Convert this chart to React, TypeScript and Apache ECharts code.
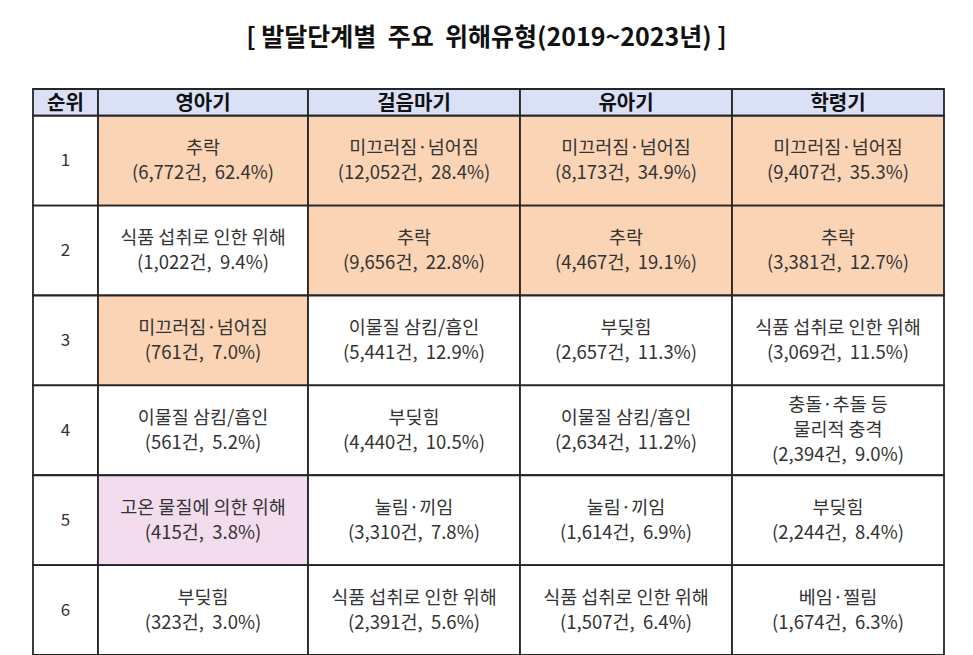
import React, { useEffect, useRef } from "react";
import * as echarts from "echarts";

const TITLE = "[ 발달단계별  주요  위해유형(2019~2023년) ]";
const rankHeader = "순위";
const stages = ["영아기", "걸음마기", "유아기", "학령기"];
const ranks = ["1", "2", "3", "4", "5", "6"];

const infantTypes = ["추락", "식품 섭취로 인한 위해", "미끄러짐·넘어짐", "이물질 삼킴/흡인", "고온 물질에 의한 위해", "부딪힘"];
const infantCounts = [6772, 1022, 761, 561, 415, 323];
const infantShares = [62.4, 9.4, 7.0, 5.2, 3.8, 3.0];

const toddlerTypes = ["미끄러짐·넘어짐", "추락", "이물질 삼킴/흡인", "부딪힘", "눌림·끼임", "식품 섭취로 인한 위해"];
const toddlerCounts = [12052, 9656, 5441, 4440, 3310, 2391];
const toddlerShares = [28.4, 22.8, 12.9, 10.5, 7.8, 5.6];

const preschoolTypes = ["미끄러짐·넘어짐", "추락", "부딪힘", "이물질 삼킴/흡인", "눌림·끼임", "식품 섭취로 인한 위해"];
const preschoolCounts = [8173, 4467, 2657, 2634, 1614, 1507];
const preschoolShares = [34.9, 19.1, 11.3, 11.2, 6.9, 6.4];

const schoolTypes = ["미끄러짐·넘어짐", "추락", "식품 섭취로 인한 위해", "충돌·추돌 등\n물리적 충격", "부딪힘", "베임·찔림"];
const schoolCounts = [9407, 3381, 3069, 2394, 2244, 1674];
const schoolShares = [35.3, 12.7, 11.5, 9.0, 8.4, 6.3];

// highlighted cells: 'o' = orange, 'p' = pink, '' = none
const infantMarks = ["o", "", "o", "", "p", ""];
const toddlerMarks = ["o", "o", "", "", "", ""];
const preschoolMarks = ["o", "o", "", "", "", ""];
const schoolMarks = ["o", "o", "", "", "", ""];

// layout (not data)
const COL_W = [65, 210, 212, 212, 212];
const HEADER_H = 27;
const ROW_H = 90.8;

const FONT = '"Noto Sans CJK KR", "Noto Sans", sans-serif';
const COLORS: Record<string, string> = { o: "#fbd4b6", p: "#f2dcee", h: "#dae0f5", "": "#ffffff" };

export default function App() {
  const ref = useRef<HTMLDivElement>(null);
  useEffect(() => {
    document.body.style.margin = "0";
    const chart = echarts.init(ref.current!, null, { renderer: "svg" });

    const colEdges = [0];
    COL_W.forEach((w) => colEdges.push(colEdges[colEdges.length - 1] + w));
    const rowEdges = [0, HEADER_H];
    ranks.forEach(() => rowEdges.push(rowEdges[rowEdges.length - 1] + ROW_H));

    const fmt = (n: number) => n.toLocaleString("en-US");
    const cells: any[] = [];
    cells.push({ value: [0, 0], label: rankHeader, kind: "h" });
    stages.forEach((s, i) => cells.push({ value: [i + 1, 0], label: s, kind: "h" }));
    const stageData = [
      [infantTypes, infantCounts, infantShares, infantMarks],
      [toddlerTypes, toddlerCounts, toddlerShares, toddlerMarks],
      [preschoolTypes, preschoolCounts, preschoolShares, preschoolMarks],
      [schoolTypes, schoolCounts, schoolShares, schoolMarks],
    ] as any[];
    ranks.forEach((r, ri) => {
      cells.push({ value: [0, ri + 1], label: r, kind: "r" });
      stageData.forEach((sd, si) => {
        const [types, counts, shares, marks] = sd;
        cells.push({
          value: [si + 1, ri + 1],
          label: `${types[ri]}\n(${fmt(counts[ri])}건,  ${shares[ri].toFixed(1)}%)`,
          kind: marks[ri] || "",
        });
      });
    });

    chart.setOption({
      animation: false,
      title: {
        text: TITLE,
        left: "center",
        top: 17,
        textStyle: { fontFamily: FONT, fontSize: 25, fontWeight: "bold", color: "#111" },
      },
      grid: { left: 33, right: 29, top: 89, bottom: 655 - 89 - rowEdges[rowEdges.length - 1] },
      xAxis: { type: "value", min: 0, max: colEdges[colEdges.length - 1], show: false },
      yAxis: { type: "value", min: 0, max: rowEdges[rowEdges.length - 1], inverse: true, show: false },
      series: [
        {
          type: "custom",
          data: cells,
          clip: false,
          renderItem: (params: any, api: any) => {
            const c = api.value(0);
            const r = api.value(1);
            const cell = cells[params.dataIndex];
            const p0 = api.coord([colEdges[c], rowEdges[r]]);
            const p1 = api.coord([colEdges[c + 1], rowEdges[r + 1]]);
            const isHeader = cell.kind === "h";
            const isRank = cell.kind === "r";
            return {
              type: "group",
              children: [
                {
                  type: "rect",
                  shape: { x: p0[0], y: p0[1], width: p1[0] - p0[0], height: p1[1] - p0[1] },
                  style: { fill: COLORS[isRank ? "" : cell.kind], stroke: "#262626", lineWidth: 1.8 },
                },
                {
                  type: "text",
                  style: {
                    text: cell.label,
                    x: (p0[0] + p1[0]) / 2,
                    y: (p0[1] + p1[1]) / 2 - (isHeader ? 1 : 2),
                    align: "center",
                    verticalAlign: "middle",
                    fontFamily: FONT,
                    fontSize: isHeader ? 20 : isRank ? 17 : 18.5,
                    fontWeight: isHeader ? "bold" : "normal",
                    lineHeight: 25,
                    fill: isHeader ? "#111" : "#333",
                  },
                },
              ],
            };
          },
        },
      ],
    });
    return () => chart.dispose();
  }, []);
  return <div ref={ref} style={{ width: 973, height: 655, position: "absolute", left: 0, top: 0 }} />;
}
